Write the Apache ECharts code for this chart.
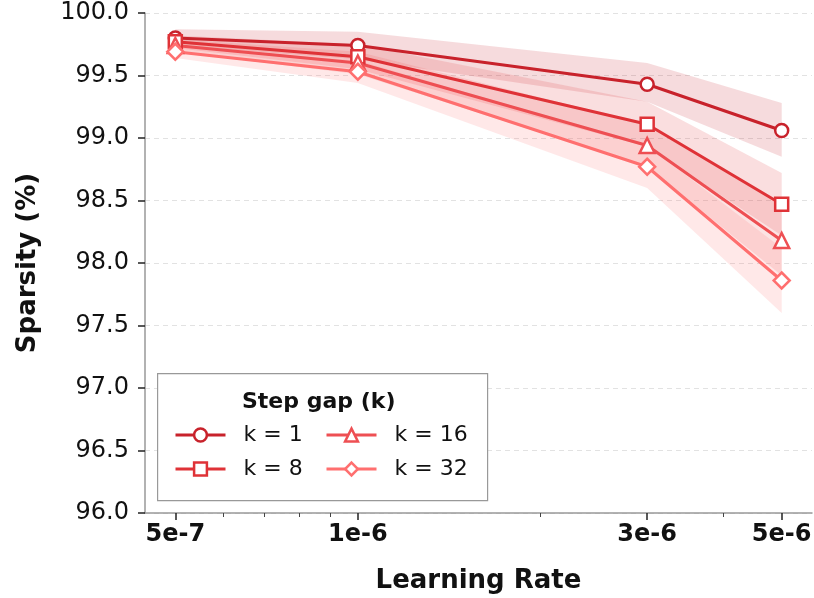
<!DOCTYPE html>
<html>
<head>
<meta charset="utf-8">
<script src="https://cdn.jsdelivr.net/npm/echarts@6/dist/echarts.min.js"></script>
<style>html,body{margin:0;padding:0;background:#fff}#c{width:814px;height:598px}</style>
</head>
<body>
<div id="c"></div>
<script>
const learningRates = [5e-7, 1e-6, 3e-6, 5e-6];
const xTickLabels = ['5e-7', '1e-6', '3e-6', '5e-6'];
const xMinorTicks = [6e-7, 7e-7, 8e-7, 9e-7, 2e-6, 4e-6];
const seriesNames = ['k = 1', 'k = 8', 'k = 16', 'k = 32'];
const k1Mean  = [99.80, 99.74, 99.43, 99.06];
const k1Lower = [99.74, 99.63, 99.29, 98.85];
const k1Upper = [99.87, 99.85, 99.60, 99.28];
const k8Mean  = [99.77, 99.65, 99.11, 98.47];
const k8Lower = [99.72, 99.55, 98.93, 98.22];
const k8Upper = [99.82, 99.75, 99.29, 98.72];
const k16Mean  = [99.74, 99.60, 98.94, 98.18];
const k16Lower = [99.69, 99.51, 98.77, 97.90];
const k16Upper = [99.79, 99.69, 99.11, 98.46];
const k32Mean  = [99.69, 99.53, 98.77, 97.86];
const k32Lower = [99.64, 99.44, 98.60, 97.60];
const k32Upper = [99.74, 99.62, 98.94, 98.12];

const colors = ['#C8222B', '#DF3237', '#EE4F53', '#FF6F6F'];
const symbols = ['circle', 'rect', 'triangle', 'diamond'];
const symbolSizes = [13, 13, 15, 16];
const means = [k1Mean, k8Mean, k16Mean, k32Mean];
const lowers = [k1Lower, k8Lower, k16Lower, k32Lower];
const uppers = [k1Upper, k8Upper, k16Upper, k32Upper];

const xMin = Math.pow(10, Math.log10(learningRates[0]) - 0.05);
const xMax = Math.pow(10, Math.log10(learningRates[3]) + 0.05);

const series = [];
for (let i = 0; i < 4; i++) {
  const lo = lowers[i], up = uppers[i], col = colors[i];
  series.push({
    type: 'custom', name: 'band' + i, silent: true, z: 1,
    data: learningRates.map((x, j) => [x, lo[j], up[j]]),
    renderItem: function (params, api) {
      if (params.dataIndex !== 0) return null;
      const pts = [];
      for (let j = 0; j < learningRates.length; j++) pts.push(api.coord([learningRates[j], up[j]]));
      for (let j = learningRates.length - 1; j >= 0; j--) pts.push(api.coord([learningRates[j], lo[j]]));
      return {type: 'polygon', shape: {points: pts}, style: {fill: col, opacity: 0.16}};
    }
  });
}
for (let i = 0; i < 4; i++) {
  series.push({
    type: 'line', name: seriesNames[i],
    data: learningRates.map((x, j) => [x, means[i][j]]),
    symbol: symbols[i], symbolSize: symbolSizes[i], showSymbol: true,
    lineStyle: {color: colors[i], width: 3},
    itemStyle: {color: '#fff', borderColor: colors[i], borderWidth: 2.5},
    z: 3
  });
}

const chart = echarts.init(document.getElementById('c'), null, {renderer: 'canvas'});
const legendCommon = {
  orient: 'vertical', itemWidth: 50, itemHeight: 16, itemGap: 10, z: 20, padding: 0,
  textStyle: {fontFamily: 'DejaVu Sans', fontSize: 22, lineHeight: 24, color: '#111', padding: [0, 0, 0, 13]},
  lineStyle: {width: 3},
  itemStyle: {borderWidth: 2.5},
  selectedMode: false, inactiveColor: '#111'
};
chart.setOption({
  animation: false,
  grid: {left: 145, right: 2, top: 13, bottom: 85, containLabel: false, outerBoundsMode: 'none'},
  xAxis: [{
    type: 'log', min: xMin, max: xMax, logBase: 10,
    name: 'Learning Rate', nameLocation: 'middle', nameGap: 55,
    nameTextStyle: {fontFamily: 'DejaVu Sans', fontSize: 26, fontWeight: 'bold', color: '#111'},
    axisLine: {show: true, lineStyle: {color: '#999', width: 1.5}},
    axisTick: {show: true, length: 7, lineStyle: {color: '#222', width: 1.5}, customValues: learningRates},
    axisLabel: {show: true, margin: 10, customValues: learningRates,
      fontFamily: 'DejaVu Sans', fontSize: 24, fontWeight: 'bold', color: '#111',
      formatter: v => { const idx = learningRates.findIndex(x => Math.abs(x - v) / x < 1e-6); return idx >= 0 ? xTickLabels[idx] : ''; }},
    splitLine: {show: false}, minorTick: {show: false}
  }, {
    type: 'log', min: xMin, max: xMax, logBase: 10, position: 'bottom',
    axisLine: {show: false},
    axisTick: {show: true, length: 4, lineStyle: {color: '#444', width: 1}, customValues: xMinorTicks},
    axisLabel: {show: false}, splitLine: {show: false}
  }],
  yAxis: {
    type: 'value', min: 96, max: 100, interval: 0.5,
    name: 'Sparsity (%)', nameLocation: 'middle', nameGap: 104, nameRotate: 90,
    nameTextStyle: {fontFamily: 'DejaVu Sans', fontSize: 26, fontWeight: 'bold', color: '#111'},
    axisLine: {show: true, lineStyle: {color: '#999', width: 1.5}},
    axisTick: {show: true, length: 7, lineStyle: {color: '#222', width: 1.5}},
    axisLabel: {margin: 16, fontFamily: 'DejaVu Sans', fontSize: 24, color: '#111', formatter: v => v.toFixed(1)},
    splitLine: {show: true, lineStyle: {color: '#e2e2e2', width: 1, type: [5, 4]}}
  },
  legend: [
    Object.assign({}, legendCommon, {data: [seriesNames[0], seriesNames[1]], left: 174, top: 423}),
    Object.assign({}, legendCommon, {data: [seriesNames[2], seriesNames[3]], left: 325, top: 423})
  ],
  graphic: [
    {type: 'rect', left: 157, top: 373, z: 5, shape: {width: 330, height: 127},
     style: {fill: '#fff', stroke: '#999', lineWidth: 1.2}},
    {type: 'text', z: 6, left: 242, top: 391,
     style: {text: 'Step gap (k)', fontFamily: 'DejaVu Sans', fontSize: 22, fontWeight: 'bold', fill: '#111'}}
  ],
  series: series
});
</script>
</body>
</html>
